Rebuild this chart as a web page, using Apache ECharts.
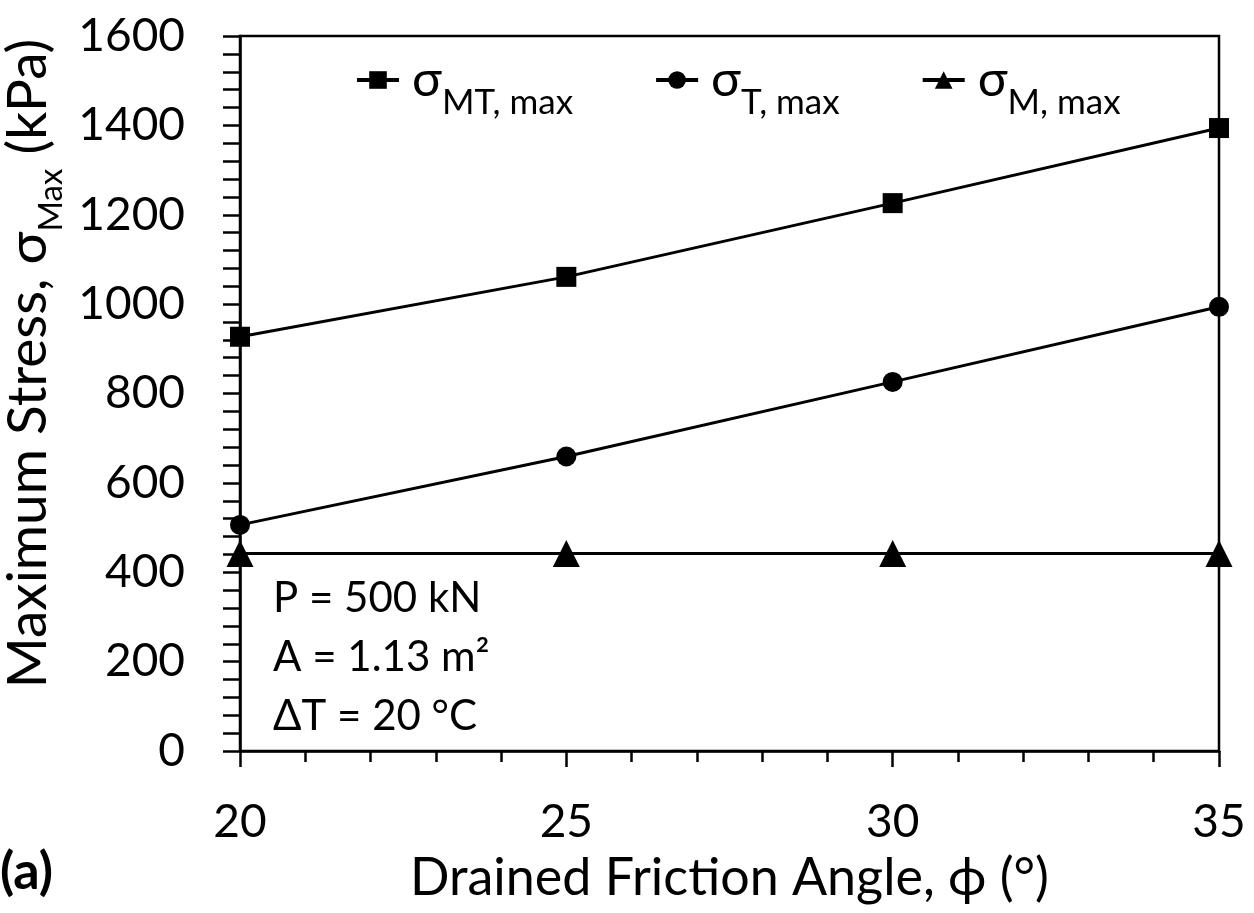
<!DOCTYPE html>
<html>
<head>
<meta charset="utf-8">
<script src="https://cdn.jsdelivr.net/npm/echarts@6/dist/echarts.min.js"></script>
<style>
html, body { margin: 0; padding: 0; background: #fff; }
#chart { width: 1254px; height: 913px; }
</style>
</head>
<body>
<div id="chart"></div>
<script>
// Drained friction angle (degrees) on the x axis
const frictionAngles = [20, 25, 30, 35];
// Maximum stresses (kPa)
const sigmaMT = [927, 1061, 1226, 1394];
const sigmaT = [506, 659, 826, 994];
const sigmaM = [442, 442, 442, 442];

// Axis ranges and tick steps
const xRange = [20, 35];
const xStep = 5;
const yRange = [0, 1600];
const yStep = 200;

// Series names and the subscripts shown after sigma
const seriesNames = ['sigma_MT', 'sigma_T', 'sigma_M'];
const seriesSubs = ['MT, max', 'T, max', 'M, max'];
const seriesSymbols = ['rect', 'circle', 'triangle'];
const seriesSymbolSizes = [20, 20, 27];

// Notes drawn inside the plot
const noteLines = ['P = 500 kN', 'A = 1.13 m\u00B2', '\u0394T = 20 \u00B0C'];

const FONT = 'Lato, "Open Sans", "DejaVu Sans", sans-serif';
const INK = '#000';

const pairs = (xs, ys) => xs.map((x, i) => [x, ys[i]]);
const seriesValues = [sigmaMT, sigmaT, sigmaM];

const chart = echarts.init(document.getElementById('chart'), null, { renderer: 'canvas' });

const subStyle = (size, pad) => ({
  fontFamily: FONT, fontSize: size, lineHeight: size, color: INK,
  verticalAlign: 'top', padding: [pad, 0, 0, 0]
});

chart.setOption({
  backgroundColor: '#fff',
  animation: false,
  grid: {
    left: 240, right: 35, top: 36, bottom: 162,
    outerBoundsMode: 'none', containLabel: false,
    show: true, borderColor: INK, borderWidth: 2.5
  },
  legend: {
    left: 350, top: 50,
    itemWidth: 42, itemHeight: 22, itemGap: 81,
    data: seriesNames,
    lineStyle: { width: 4, color: INK },
    formatter: (name) => '{s|\u03C3}{sub|' + seriesSubs[seriesNames.indexOf(name)] + '}',
    textStyle: {
      color: INK,
      rich: {
        s: { fontFamily: FONT, fontSize: 50, lineHeight: 50, color: INK, verticalAlign: 'top', padding: [0, 0, 0, 8] },
        sub: subStyle(35, 30)
      }
    }
  },
  xAxis: {
    type: 'value',
    min: xRange[0], max: xRange[1], interval: xStep,
    name: 'Drained Friction Angle, \u03D5 (\u00B0)',
    nameLocation: 'middle', nameGap: 101,
    nameTextStyle: { fontFamily: FONT, fontSize: 52, color: INK },
    axisLine: { show: true, onZero: false, lineStyle: { color: INK, width: 2.5 } },
    axisTick: { show: true, inside: false, length: 16, lineStyle: { color: INK, width: 2.5 } },
    minorTick: { show: true, splitNumber: 5, length: 11, lineStyle: { color: INK, width: 2.5 } },
    splitLine: { show: false },
    axisLabel: { fontFamily: FONT, fontSize: 46, color: INK, margin: 48, formatter: (v) => String(v) }
  },
  yAxis: {
    type: 'value',
    min: yRange[0], max: yRange[1], interval: yStep,
    name: '{t|Maximum Stress, \u03C3}{sub|Max}{t| (kPa)}',
    nameLocation: 'middle', nameGap: 158,
    nameTextStyle: {
      color: INK,
      padding: [0, 0, 0, 60],
      rich: {
        t: { fontFamily: FONT, fontSize: 55, lineHeight: 55, color: INK, verticalAlign: 'top' },
        sub: subStyle(33, 34)
      }
    },
    axisLine: { show: true, onZero: false, lineStyle: { color: INK, width: 2.5 } },
    axisTick: { show: true, inside: false, length: 17, lineStyle: { color: INK, width: 2.5 } },
    minorTick: { show: true, splitNumber: 5, length: 17, lineStyle: { color: INK, width: 2.5 } },
    splitLine: { show: false },
    axisLabel: { fontFamily: FONT, fontSize: 46, color: INK, margin: 55, formatter: (v) => String(v) }
  },
  series: seriesNames.map((name, i) => ({
    name,
    type: 'line',
    data: pairs(frictionAngles, seriesValues[i]),
    symbol: seriesSymbols[i],
    symbolSize: seriesSymbolSizes[i],
    showAllSymbol: true,
    clip: false,
    lineStyle: { color: INK, width: 3 },
    itemStyle: { color: INK, borderColor: INK, borderWidth: 0 },
    emphasis: { disabled: true }
  })),
  graphic: [
    {
      type: 'text', left: 273, top: 569, silent: true,
      style: {
        text: noteLines.join('\n'),
        fontFamily: FONT, fontSize: 42, lineHeight: 59, fill: INK
      }
    },
    {
      type: 'text', left: 0, top: 846, silent: true,
      style: {
        text: '(a)',
        fontFamily: FONT, fontSize: 52, fontWeight: 'bold', fill: INK
      }
    }
  ]
});
</script>
</body>
</html>
